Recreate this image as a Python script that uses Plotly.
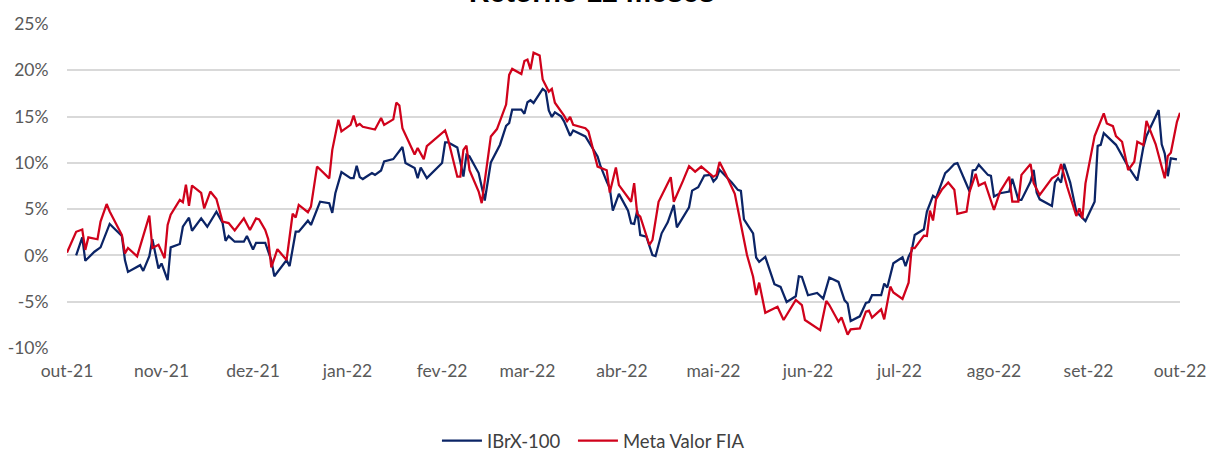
import plotly.graph_objects as go

# ---------------- data ----------------
meta_dates = [
    "2021-10-01", "2021-10-04", "2021-10-06", "2021-10-07", "2021-10-08", "2021-10-11", "2021-10-12",
    "2021-10-14", "2021-10-15", "2021-10-17", "2021-10-19", "2021-10-20", "2021-10-21", "2021-10-24",
    "2021-10-28", "2021-10-29", "2021-10-31", "2021-11-02", "2021-11-03", "2021-11-04", "2021-11-07",
    "2021-11-08", "2021-11-09", "2021-11-10", "2021-11-11", "2021-11-14", "2021-11-15", "2021-11-17",
    "2021-11-19", "2021-11-21", "2021-11-23", "2021-11-25", "2021-11-28", "2021-11-30", "2021-12-02",
    "2021-12-03", "2021-12-05", "2021-12-06", "2021-12-07", "2021-12-09", "2021-12-12", "2021-12-14",
    "2021-12-15", "2021-12-16", "2021-12-19", "2021-12-20", "2021-12-22", "2021-12-26", "2021-12-27",
    "2021-12-29", "2021-12-30", "2022-01-02", "2022-01-03", "2022-01-04", "2022-01-05", "2022-01-06",
    "2022-01-10", "2022-01-12", "2022-01-13", "2022-01-16", "2022-01-17", "2022-01-18", "2022-01-19",
    "2022-01-23", "2022-01-24", "2022-01-26", "2022-01-27", "2022-02-02", "2022-02-03", "2022-02-06",
    "2022-02-07", "2022-02-08", "2022-02-09", "2022-02-10", "2022-02-13", "2022-02-14", "2022-02-17",
    "2022-02-19", "2022-02-21", "2022-02-22", "2022-02-23", "2022-02-24", "2022-02-27", "2022-02-28",
    "2022-03-01", "2022-03-02", "2022-03-03", "2022-03-05", "2022-03-06", "2022-03-08", "2022-03-09",
    "2022-03-10", "2022-03-13", "2022-03-14", "2022-03-15", "2022-03-16", "2022-03-20", "2022-03-21",
    "2022-03-24", "2022-03-27", "2022-03-28", "2022-03-30", "2022-03-31", "2022-04-04", "2022-04-05",
    "2022-04-06", "2022-04-07", "2022-04-10", "2022-04-11", "2022-04-13", "2022-04-17", "2022-04-18",
    "2022-04-21", "2022-04-23", "2022-04-25", "2022-04-27", "2022-05-01", "2022-05-02", "2022-05-03",
    "2022-05-05", "2022-05-08", "2022-05-12", "2022-05-14", "2022-05-15", "2022-05-16", "2022-05-18",
    "2022-05-22", "2022-05-24", "2022-05-28", "2022-05-30", "2022-05-31", "2022-06-05", "2022-06-07",
    "2022-06-08", "2022-06-11", "2022-06-12", "2022-06-14", "2022-06-15", "2022-06-18", "2022-06-20",
    "2022-06-21", "2022-06-22", "2022-06-25", "2022-06-26", "2022-06-28", "2022-06-29", "2022-07-02",
    "2022-07-04", "2022-07-05", "2022-07-06", "2022-07-09", "2022-07-10", "2022-07-11", "2022-07-12",
    "2022-07-13", "2022-07-15", "2022-07-17", "2022-07-19", "2022-07-20", "2022-07-23", "2022-07-24",
    "2022-07-26", "2022-07-27", "2022-07-29", "2022-08-01", "2022-08-03", "2022-08-06", "2022-08-07",
    "2022-08-09", "2022-08-10", "2022-08-13", "2022-08-14", "2022-08-16", "2022-08-20", "2022-08-22",
    "2022-08-23", "2022-08-25", "2022-08-28", "2022-08-29", "2022-08-30", "2022-08-31", "2022-09-03",
    "2022-09-06", "2022-09-07", "2022-09-09", "2022-09-10", "2022-09-12", "2022-09-14", "2022-09-16",
    "2022-09-17", "2022-09-19", "2022-09-20", "2022-09-23", "2022-09-26", "2022-09-27", "2022-09-28",
    "2022-09-30", "2022-10-01",
]
meta_values = [
    0.3, 2.55, 2.8, 0.6, 1.95, 1.75, 3.65,
    5.55, 4.75, 3.5, 2.2, 0.2, 0.8, -0.1,
    4.3, 0.8, 1.15, -0.3, 3.3, 4.4, 6.0,
    5.75, 7.65, 5.37, 7.55, 6.75, 5.07, 6.9,
    6.1, 3.65, 3.5, 2.7, 4.0, 2.75, 4.0,
    3.9, 2.75, 1.75, -1.3, 0.67, -0.5, 4.5,
    4.1, 5.45, 4.67, 5.27, 9.6, 8.33, 11.4,
    14.65, 13.4, 14.1, 15.1, 14.0, 14.2, 13.9,
    13.6, 14.85, 14.1, 14.7, 16.5, 16.2, 13.75,
    10.9, 11.6, 10.4, 11.8, 13.5, 12.5, 8.5,
    8.5, 11.4, 11.85, 9.2, 6.9, 5.65, 12.85,
    13.65, 15.4, 16.3, 19.5, 20.15, 19.6, 21.0,
    21.15, 20.1, 21.9, 21.6, 19.0, 17.7, 18.0,
    16.5, 15.1, 14.5, 14.95, 14.1, 13.75, 13.4,
    9.6, 9.2, 6.8, 9.5, 7.6, 5.8, 7.8,
    4.5, 4.2, 1.13, 1.67, 5.8, 8.45, 5.8,
    8.05, 9.65, 9.05, 9.6, 8.5, 8.7, 10.1,
    8.8, 6.65, 0.05, -2.3, -4.27, -2.94, -6.2,
    -5.55, -6.98, -4.8, -5.36, -6.98, -8.07, -4.92,
    -5.36, -7.16, -6.69, -8.55, -7.99, -7.88, -6.08,
    -5.96, -6.72, -5.82, -6.9, -3.37, -4.0, -4.7,
    -2.94, 0.78, 0.78, 2.14, 2.1, 4.85, 3.77,
    6.08, 7.16, 7.88, 7.09, 4.49, 4.74, 6.9,
    8.82, 7.55, 7.88, 4.92, 6.9, 8.5, 5.8,
    5.8, 8.7, 9.87, 7.8, 6.53, 8.33, 8.76,
    9.87, 7.42, 4.26, 5.09, 4.01, 7.79, 12.9,
    15.34, 14.26, 13.97, 12.9, 12.28, 9.22, 10.12,
    12.28, 11.92, 14.54, 12.03, 8.33, 10.73, 11.09,
    14.43, 15.4,
]

ibrx_dates = [
    "2021-10-04", "2021-10-06", "2021-10-07", "2021-10-10", "2021-10-12", "2021-10-13", "2021-10-15",
    "2021-10-17", "2021-10-19", "2021-10-20", "2021-10-21", "2021-10-25", "2021-10-26", "2021-10-28",
    "2021-10-29", "2021-10-31", "2021-11-01", "2021-11-03", "2021-11-04", "2021-11-07", "2021-11-08",
    "2021-11-10", "2021-11-11", "2021-11-14", "2021-11-16", "2021-11-19", "2021-11-21", "2021-11-22",
    "2021-11-23", "2021-11-25", "2021-11-28", "2021-11-29", "2021-12-01", "2021-12-02", "2021-12-05",
    "2021-12-07", "2021-12-08", "2021-12-12", "2021-12-13", "2021-12-15", "2021-12-16", "2021-12-19",
    "2021-12-20", "2021-12-23", "2021-12-26", "2021-12-27", "2021-12-28", "2021-12-30", "2022-01-02",
    "2022-01-03", "2022-01-04", "2022-01-05", "2022-01-06", "2022-01-09", "2022-01-10", "2022-01-12",
    "2022-01-13", "2022-01-16", "2022-01-17", "2022-01-19", "2022-01-20", "2022-01-23", "2022-01-24",
    "2022-01-25", "2022-01-27", "2022-02-01", "2022-02-02", "2022-02-03", "2022-02-06", "2022-02-08",
    "2022-02-09", "2022-02-10", "2022-02-13", "2022-02-15", "2022-02-17", "2022-02-20", "2022-02-22",
    "2022-02-23", "2022-02-24", "2022-02-27", "2022-02-28", "2022-03-01", "2022-03-02", "2022-03-03",
    "2022-03-06", "2022-03-07", "2022-03-08", "2022-03-09", "2022-03-10", "2022-03-12", "2022-03-13",
    "2022-03-15", "2022-03-16", "2022-03-20", "2022-03-24", "2022-03-25", "2022-03-27", "2022-03-28",
    "2022-03-29", "2022-03-31", "2022-04-03", "2022-04-04", "2022-04-05", "2022-04-06", "2022-04-07",
    "2022-04-09", "2022-04-11", "2022-04-12", "2022-04-14", "2022-04-16", "2022-04-18", "2022-04-19",
    "2022-04-23", "2022-04-24", "2022-04-26", "2022-04-28", "2022-04-30", "2022-05-01", "2022-05-02",
    "2022-05-03", "2022-05-07", "2022-05-09", "2022-05-10", "2022-05-11", "2022-05-14", "2022-05-15",
    "2022-05-16", "2022-05-18", "2022-05-21", "2022-05-23", "2022-05-25", "2022-05-28", "2022-05-29",
    "2022-05-30", "2022-06-01", "2022-06-04", "2022-06-06", "2022-06-08", "2022-06-11", "2022-06-13",
    "2022-06-14", "2022-06-15", "2022-06-18", "2022-06-20", "2022-06-21", "2022-06-22", "2022-06-25",
    "2022-06-26", "2022-06-27", "2022-06-29", "2022-07-02", "2022-07-03", "2022-07-04", "2022-07-05",
    "2022-07-06", "2022-07-09", "2022-07-10", "2022-07-11", "2022-07-12", "2022-07-13", "2022-07-16",
    "2022-07-17", "2022-07-19", "2022-07-20", "2022-07-24", "2022-07-25", "2022-07-26", "2022-07-27",
    "2022-07-30", "2022-07-31", "2022-08-01", "2022-08-03", "2022-08-06", "2022-08-07", "2022-08-09",
    "2022-08-10", "2022-08-13", "2022-08-14", "2022-08-15", "2022-08-16", "2022-08-20", "2022-08-21",
    "2022-08-22", "2022-08-23", "2022-08-24", "2022-08-26", "2022-08-28", "2022-08-31", "2022-09-03",
    "2022-09-04", "2022-09-05", "2022-09-06", "2022-09-10", "2022-09-14", "2022-09-17", "2022-09-19",
    "2022-09-20", "2022-09-24", "2022-09-25", "2022-09-26", "2022-09-27", "2022-09-28", "2022-09-30",
]
ibrx_values = [
    0.0, 1.95, -0.58, 0.4, 0.87, 1.74, 3.4,
    2.74, 2.1, -0.5, -1.78, -1.05, -1.67, -0.08,
    1.74, -1.41, -0.87, -2.68, 0.87, 1.23, 3.1,
    4.08, 2.67, 4.0, 3.1, 4.73, 3.54, 1.58,
    2.09, 1.48, 1.48, 2.09, 0.65, 1.37, 1.37,
    -0.51, -2.25, -0.51, -1.16, 2.56, 2.56, 3.75,
    3.29, 5.81, 5.64, 4.6, 6.72, 9.0, 8.35,
    8.35, 9.69, 8.46, 8.25, 8.9, 8.71, 9.18,
    10.15, 10.41, 10.88, 11.71, 9.98, 9.44, 8.35,
    9.5, 8.35, 9.98, 12.2, 12.2, 11.67, 8.53,
    10.88, 10.7, 8.9, 5.93, 10.05, 11.96, 14.0,
    14.3, 15.75, 15.75, 15.3, 16.54, 16.76, 16.47,
    18.0, 17.73, 15.67, 14.96, 15.46, 15.02, 14.48,
    12.93, 13.5, 12.86, 10.69, 9.61, 7.98, 7.26,
    4.84, 6.65, 4.84, 3.47, 3.4, 4.84, 2.2,
    2.02, 0.03, -0.08, 2.39, 3.58, 5.46, 3.04,
    5.2, 7.0, 7.37, 8.63, 8.7, 7.98, 8.35,
    9.25, 7.87, 7.08, 6.97, 3.9, 2.39, -0.22,
    -0.69, -0.15, -3.11, -3.4, -5.03, -4.41, -2.25,
    -2.32, -4.3, -4.06, -4.67, -2.39, -2.86, -4.85,
    -5.2, -7.09, -6.58, -5.14, -5.03, -4.3, -4.3,
    -3.04, -3.47, -0.85, -0.2, -1.15, -0.13, 0.5,
    2.2, 2.82, 4.73, 5.57, 6.44, 6.18, 8.89,
    9.18, 9.87, 9.98, 6.9, 9.18, 9.25, 9.8,
    8.7, 8.6, 6.36, 6.72, 6.9, 8.28, 6.0,
    6.0, 7.98, 9.25, 6.78, 6.06, 5.34, 7.87,
    8.35, 7.87, 9.9, 7.87, 4.73, 3.72, 5.8,
    11.84, 11.95, 13.2, 11.95, 9.6, 8.1, 11.73,
    12.9, 15.7, 12.0, 11.0, 8.56, 10.48, 10.37,
]

tick_dates = [
    "2021-10-01", "2021-11-01", "2021-12-01", "2022-01-01", "2022-02-01", "2022-03-01", "2022-04-01",
    "2022-05-01", "2022-06-01", "2022-07-01", "2022-08-01", "2022-09-01", "2022-10-01",
]
tick_labels = [
    "out-21", "nov-21", "dez-21", "jan-22", "fev-22", "mar-22", "abr-22",
    "mai-22", "jun-22", "jul-22", "ago-22", "set-22", "out-22",
]
y_ticks = [-10, -5, 0, 5, 10, 15, 20, 25]
y_labels = ["-10%", "-5%", "0%", "5%", "10%", "15%", "20%", "25%"]

title_text = "Retorno 12 meses"
series_names = ["IBrX-100", "Meta Valor FIA"]

# ---------------- figure ----------------
NAVY = "#0b2466"
RED = "#d0021b"
GRID = "#d9d9d9"
TXT = "#595959"

fig = go.Figure()
fig.add_trace(go.Scatter(
    x=ibrx_dates, y=ibrx_values, mode="lines", name=series_names[0],
    line=dict(color=NAVY, width=2.25), legendwidth=81,
))
fig.add_trace(go.Scatter(
    x=meta_dates, y=meta_values, mode="lines", name=series_names[1],
    line=dict(color=RED, width=2.25),
))

fig.update_layout(
    width=1206, height=452,
    margin=dict(l=67, r=26, t=24, b=104, autoexpand=False),
    paper_bgcolor="white", plot_bgcolor="white",
    font=dict(family="Lato, 'Open Sans', sans-serif", size=17.5, color=TXT),
    showlegend=True,
    legend=dict(
        orientation="h", x=0.473, xanchor="center", y=-0.287, yanchor="middle",
        font=dict(size=18.5, color="#404040"), traceorder="normal",
        itemwidth=40,
    ),
    annotations=[dict(
        text="<b>" + title_text + "</b>", xref="paper", yref="paper",
        x=0.472, y=1.043, xanchor="center", yanchor="bottom", showarrow=False,
        font=dict(family="Liberation Sans, Arial, sans-serif", size=28.5, color="black"),
    )],
)

fig.update_xaxes(
    type="date", range=["2021-10-01", "2022-10-01"],
    tickmode="array", tickvals=tick_dates, ticktext=tick_labels,
    showgrid=False, zeroline=False, showline=False, automargin=False,
    ticks="outside", ticklen=7, tickcolor="rgba(0,0,0,0)",
    ticklabeloverflow="allow",
    tickfont=dict(size=17.5, color=TXT),
)
fig.update_yaxes(
    range=[-10, 25], tickmode="array", tickvals=y_ticks, ticktext=y_labels,
    showgrid=True, gridcolor=GRID, gridwidth=1.5, zeroline=False, showline=False,
    automargin=False,
    ticks="outside", ticklen=14, tickcolor="rgba(0,0,0,0)",
    tickfont=dict(size=17.5, color=TXT),
)

fig.write_html(
    "out.html",
    config={"displayModeBar": False},
    post_script="document.body.style.margin='0';document.body.style.overflow='hidden';",
)
